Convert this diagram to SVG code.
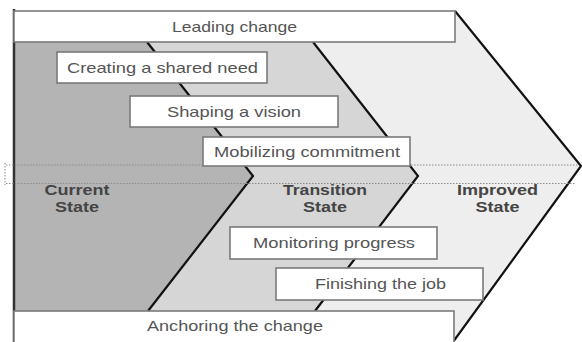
<svg xmlns="http://www.w3.org/2000/svg" width="582" height="342" viewBox="0 0 582 342">
<style>
.box{fill:#ffffff;stroke:#7a7a7a;stroke-width:1.6}
.t{font-family:"Liberation Sans",Arial,sans-serif;font-size:15px;fill:#555555;text-anchor:middle}
.b{font-family:"Liberation Sans",Arial,sans-serif;font-size:15px;font-weight:bold;fill:#444444;text-anchor:middle}
.edge{fill:none;stroke:#111111;stroke-width:2.2;stroke-linejoin:miter}
.dot{fill:none;stroke:#8a8a8a;stroke-width:1;stroke-dasharray:1.5 1.5}
</style>
<rect width="582" height="342" fill="#ffffff"/>
<g id="regions">
<polygon id="improved-region" points="14,11 455,11 581,166 453,342 14,342" fill="#eeeeee"/>
<polygon id="transition-region" points="147,42 313,42 418,176 315,311 148,311 253,176" fill="#d6d6d6"/>
<polygon id="current-region" points="14,42 147,42 253,176 148,311 14,311" fill="#b4b4b4"/>
</g>
<g id="connectors">
<polyline class="edge" points="147,42 253,176 148,311"/>
<polyline class="edge" points="313,42 418,176 315,311"/>
<polyline class="edge" points="455,11 581,166 453,342"/>
<line x1="14" y1="9" x2="14" y2="342" stroke="#333333" stroke-width="2.5"/>
</g>
<g id="guides">
<line class="dot" x1="6" y1="165" x2="578" y2="165"/>
<line class="dot" x1="6" y1="183.5" x2="576" y2="183.5"/>
<line class="dot" x1="5" y1="163" x2="5" y2="185"/>
</g>
<g id="leading-change">
<rect class="box" x="14" y="11" width="441" height="31"/>
<text class="t" x="234.5" y="32" textLength="125" lengthAdjust="spacingAndGlyphs">Leading change</text>
</g>
<g id="creating-shared-need">
<rect class="box" x="57" y="52" width="210" height="31"/>
<text class="t" x="162.5" y="73" textLength="191" lengthAdjust="spacingAndGlyphs">Creating a shared need</text>
</g>
<g id="shaping-vision">
<rect class="box" x="130" y="96" width="208" height="31"/>
<text class="t" x="234" y="117" textLength="134" lengthAdjust="spacingAndGlyphs">Shaping a vision</text>
</g>
<g id="mobilizing-commitment">
<rect class="box" x="203" y="137" width="207" height="29"/>
<text class="t" x="307" y="157" textLength="186" lengthAdjust="spacingAndGlyphs">Mobilizing commitment</text>
</g>
<g id="current-state">
<text class="b" x="77" y="195" textLength="65" lengthAdjust="spacingAndGlyphs">Current</text>
<text class="b" x="77" y="212" textLength="44" lengthAdjust="spacingAndGlyphs">State</text>
</g>
<g id="transition-state">
<text class="b" x="325" y="195" textLength="84" lengthAdjust="spacingAndGlyphs">Transition</text>
<text class="b" x="325" y="212" textLength="44" lengthAdjust="spacingAndGlyphs">State</text>
</g>
<g id="improved-state">
<text class="b" x="497.5" y="195" textLength="81" lengthAdjust="spacingAndGlyphs">Improved</text>
<text class="b" x="497.5" y="212" textLength="44" lengthAdjust="spacingAndGlyphs">State</text>
</g>
<g id="monitoring-progress">
<rect class="box" x="230" y="227" width="207" height="32"/>
<text class="t" x="334" y="248" textLength="162" lengthAdjust="spacingAndGlyphs">Monitoring progress</text>
</g>
<g id="finishing-job">
<rect class="box" x="276" y="268" width="207" height="32"/>
<text class="t" x="380.5" y="289" textLength="131" lengthAdjust="spacingAndGlyphs">Finishing the job</text>
</g>
<g id="anchoring-change">
<rect class="box" x="14" y="311" width="440" height="33"/>
<text class="t" x="235" y="331" textLength="176" lengthAdjust="spacingAndGlyphs">Anchoring the change</text>
</g>
</svg>
